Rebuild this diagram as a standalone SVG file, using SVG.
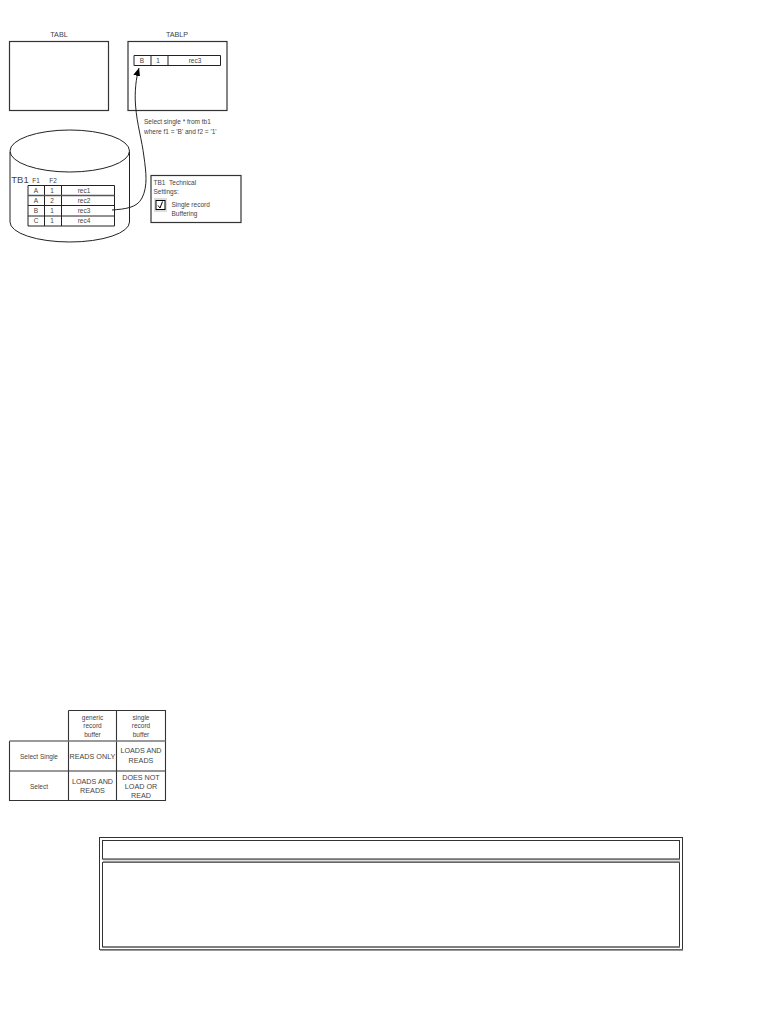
<svg xmlns="http://www.w3.org/2000/svg" width="781" height="1011" viewBox="0 0 781 1011">
<defs>
<marker id="arrow" markerUnits="userSpaceOnUse" markerWidth="10" markerHeight="10" refX="8" refY="3.5" orient="auto"><path d="M0,0 L8,3.5 L0,7 Z" fill="#000"/></marker>
</defs>
<style>
text{font-family:"Liberation Sans",Arial,sans-serif;font-size:6.5px;fill:#444;text-anchor:middle}
.l{text-anchor:start}
.c{font-size:7.200px}
.b{fill:#fff;stroke:#333;stroke-width:1.200}
.g{stroke:#222;stroke-width:1;fill:none}
.t{stroke:#333;stroke-width:1.100;fill:none}
.f{fill:none;stroke:#333;stroke-width:1}
.h{fill:none;stroke:#777;stroke-width:1.300}
</style>
<rect width="781" height="1011" fill="#fff"/>
<g id="tabl">
<text x="59" y="37" class="c">TABL</text>
<rect class="b" x="9.500" y="41.500" width="99" height="69"/>
</g>
<g id="tablp">
<text x="177" y="37" class="c">TABLP</text>
<rect class="b" x="128" y="41.500" width="99" height="69"/>
<path class="g" d="M134 55.500H220.500V65.500H134ZM151 55.500V65.500M168 55.500V65.500"/>
<text x="142" y="63">B</text><text x="158" y="63">1</text><text x="195" y="63">rec3</text>
</g>
<g id="query">
<text class="l" x="144" y="123.500">Select single * from tb1</text>
<text class="l" x="144" y="133.500">where f1 = 'B' and f2 = '1'</text>
</g>
<g id="tb1">
<ellipse class="g" cx="69.750" cy="151" rx="59.750" ry="21"/>
<path class="g" d="M10 152V222A59.750 20 0 0 0 129.500 222V152"/>
<text x="20" y="183" style="font-size:9.500px">TB1</text>
<text x="36" y="183">F1</text><text x="53" y="183">F2</text>
<path class="g" d="M28 185.500H114.500V226H28ZM28 205.500H114.500M28 216H114.500M44.500 185.500V226M61.500 185.500V226"/>
<path d="M28 195.500H114.500" stroke="#555" stroke-width="1.300"/>
<text x="36" y="193">A</text><text x="52" y="193">1</text><text x="84" y="193">rec1</text>
<text x="36" y="203">A</text><text x="52" y="203">2</text><text x="84" y="203">rec2</text>
<text x="36" y="213">B</text><text x="52" y="213">1</text><text x="84" y="213">rec3</text>
<text x="36" y="223">C</text><text x="52" y="223">1</text><text x="84" y="223">rec4</text>
</g>
<g id="settings">
<rect class="b" x="151" y="175.500" width="90" height="47"/>
<text class="l" x="153.500" y="184.500">TB1&#160;&#160;Technical</text>
<text class="l" x="153.500" y="193.500">Settings:</text>
<rect x="154" y="198" width="13" height="14" fill="#ddd"/>
<rect x="156" y="200.500" width="9" height="9" fill="#fff" stroke="#000"/>
<path d="M158 205.500L160 208L162.500 201.500" fill="none" stroke="#000"/>
<text class="l" x="171.500" y="207">Single record</text>
<text class="l" x="171.500" y="216">Buffering</text>
</g>
<g id="connectors">
<path class="g" marker-end="url(#arrow)" d="M112 210C125 209 137 208 142 198C148 186 146 172 144 157C142 140 137 125 135.500 105C134.500 92 136 78 139 68"/>
</g>
<g id="matrix">
<path class="t" d="M68.500 710.500H165.500V800.500H9.500V741M165.500 741V800.500M9.500 771H165.500M68.500 710.500V800.500M116.500 710.500V800.500"/>
<path d="M9.500 741H165.500" stroke="#777" stroke-width="1.300"/>
<text x="92.500" y="720">generic</text><text x="92.500" y="728">record</text><text x="92.500" y="737">buffer</text>
<text x="141" y="720">single</text><text x="141" y="728">record</text><text x="141" y="737">buffer</text>
<text x="39" y="758.500">Select Single</text><text x="39" y="789">Select</text>
<text class="c" x="92.500" y="758.500">READS ONLY</text>
<text class="c" x="141" y="753">LOADS AND</text><text class="c" x="141" y="763">READS</text>
<text class="c" x="92.500" y="784">LOADS AND</text><text class="c" x="92.500" y="793">READS</text>
<text class="c" x="141" y="780">DOES NOT</text><text class="c" x="141" y="789">LOAD OR</text><text class="c" x="141" y="798">READ</text>
</g>
<g id="frame">
<rect class="f" x="99.500" y="837.500" width="583" height="112"/>
<rect class="f" x="102.500" y="840.500" width="577" height="18.500" stroke="#000"/>
<rect class="f" x="102.500" y="862.500" width="577" height="84.500" stroke="#000"/>
<path class="h" d="M103 859.500H680M103 862H680M103 947H680M100 950H683"/>
</g>
</svg>
